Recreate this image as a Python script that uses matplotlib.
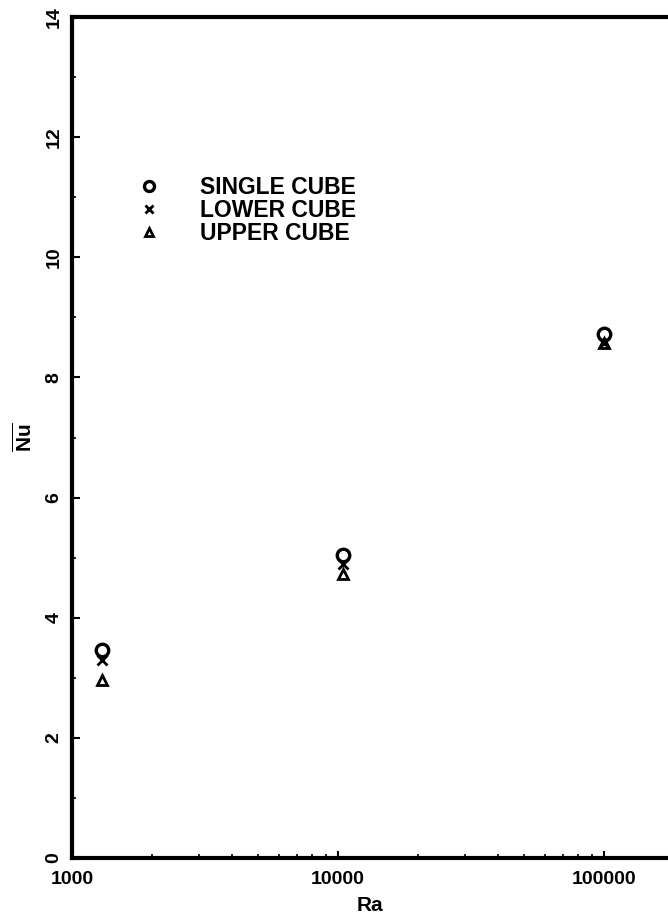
import numpy as np
import matplotlib
matplotlib.use("Agg")
import matplotlib.pyplot as plt
from matplotlib.ticker import FixedLocator, LogLocator, NullFormatter, FuncFormatter

plt.rcParams['font.family'] = ['Liberation Sans', 'DejaVu Sans']
plt.rcParams['mathtext.fontset'] = 'custom'
plt.rcParams['mathtext.bf'] = 'Liberation Sans:bold'
plt.rcParams['mathtext.rm'] = 'Liberation Sans:bold'

# Rayleigh numbers and average Nusselt numbers
ra = [1300, 10400, 100000]
nu_single = [3.47, 5.05, 8.72]
nu_lower = [3.30, 4.90, 8.58]
nu_upper = [2.97, 4.72, 8.58]

labels = ['SINGLE CUBE', 'LOWER CUBE', 'UPPER CUBE']
y_ticks = [0, 2, 4, 6, 8, 10, 12, 14]
x_ticks = [1000, 10000, 100000]

fig = plt.figure(figsize=(6.68, 9.24), dpi=100)
ax = fig.add_axes([0.108, 0.0714, 0.892, 0.9102])

ax.plot(ra, nu_single, 'o', ms=9, mfc='none', mec='black', mew=2.4, label=labels[0])
ax.plot(ra, nu_lower, 'x', ms=7.5, mec='black', mew=2.0, label=labels[1])
ax.plot(ra, nu_upper, '^', ms=7.5, mfc='none', mec='black', mew=2.0, label=labels[2])

ax.set_xscale('log')
ax.set_xlim(1000, 10 ** 5.24)
ax.set_ylim(0, 14)

ax.xaxis.set_major_locator(FixedLocator(x_ticks))
ax.xaxis.set_major_formatter(FuncFormatter(lambda v, p: '%d' % v))
ax.xaxis.set_minor_locator(LogLocator(base=10, subs=np.arange(2, 10)))
ax.xaxis.set_minor_formatter(NullFormatter())
ax.yaxis.set_major_locator(FixedLocator(y_ticks))
ax.yaxis.set_minor_locator(FixedLocator([1, 3, 5, 7, 9, 11, 13]))

ax.tick_params(which='major', direction='in', length=6, width=1.5, labelsize=14, pad=7)
ax.tick_params(which='minor', direction='in', length=3, width=1.2)
ax.tick_params(axis='x', which='major', length=5, pad=9)
for t in ax.get_xticklabels() + ax.get_yticklabels():
    t.set_fontweight('bold')
for t in ax.get_yticklabels():
    t.set_rotation(90)
    t.set_va('center')

for side in ['left', 'bottom', 'top']:
    ax.spines[side].set_linewidth(3)
ax.spines['right'].set_visible(False)

ax.set_xlabel('Ra', fontsize=15, fontweight='bold', labelpad=6)
ax.set_ylabel(r'$\mathbf{\overline{Nu}}$', fontsize=15, labelpad=7)

leg = ax.legend(loc='upper left', bbox_to_anchor=(0.075, 0.835), frameon=False,
                handletextpad=1.75, labelspacing=0.0, prop={'weight': 'bold', 'size': 16.5},
                markerscale=0.8, handlelength=1.0)

fig.savefig('out.png', dpi=100)
